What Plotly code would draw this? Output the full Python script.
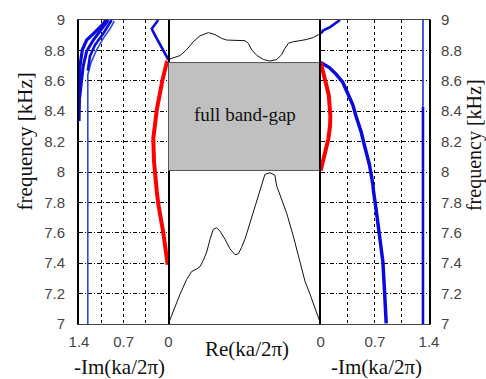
import plotly.graph_objects as go

# ---------------- data ----------------
freq_ticks = [7.0, 7.2, 7.4, 7.6, 7.8, 8.0, 8.2, 8.4, 8.6, 8.8, 9.0]
freq_tick_labels = ["7", "7.2", "7.4", "7.6", "7.8", "8", "8.2", "8.4", "8.6", "8.8", "9"]
im_ticks = [0, 0.35, 0.7, 1.05, 1.4]
im_tick_labels_left = ["", "", "0.7", "", "1.4"]
im_tick_labels_right = ["", "", "0.7", "", "1.4"]
re_ticks = [0, 1]
re_tick_labels = ["0", "0"]

gap_low, gap_high = 8.01, 8.72

# middle panel: real part (normalised path coordinate)
re_low_x = [0.000, 0.033, 0.077, 0.120, 0.153, 0.186, 0.208, 0.230, 0.252, 0.274, 0.295, 0.317,
            0.339, 0.372, 0.405, 0.438, 0.460, 0.481, 0.503, 0.536, 0.569, 0.601, 0.634, 0.667,
            0.699, 0.711, 0.744, 0.777, 0.820, 0.864, 0.897, 0.930, 0.962, 0.991, 1.000]
re_low_f = [7.000, 7.089, 7.196, 7.292, 7.345, 7.362, 7.377, 7.420, 7.473, 7.558, 7.622, 7.633,
            7.611, 7.558, 7.494, 7.456, 7.462, 7.505, 7.558, 7.665, 7.771, 7.867, 7.984, 7.995,
            7.980, 7.909, 7.814, 7.728, 7.579, 7.409, 7.281, 7.196, 7.100, 7.026, 7.000]
re_up_x = [0.000, 0.033, 0.077, 0.120, 0.164, 0.208, 0.263, 0.306, 0.350, 0.383, 0.449, 0.503,
           0.525, 0.547, 0.580, 0.624, 0.667, 0.711, 0.744, 0.766, 0.788, 0.820, 0.864, 0.908,
           0.952, 0.984, 1.000]
re_up_f = [8.740, 8.751, 8.766, 8.804, 8.857, 8.896, 8.917, 8.904, 8.879, 8.868, 8.864, 8.864,
           8.847, 8.804, 8.768, 8.740, 8.730, 8.740, 8.772, 8.815, 8.847, 8.857, 8.864, 8.872,
           8.885, 8.900, 8.911]

# left panel: -Im
L_thin_x = [1.262, 1.262, 1.212, 1.123, 1.019, 0.914, 0.847]
L_thin_f = [7.000, 8.640, 8.720, 8.804, 8.879, 8.942, 8.992]
L_a_x = [1.400, 1.390, 1.385, 1.348, 1.280, 1.149, 1.019, 0.980]
L_a_f = [8.335, 8.506, 8.698, 8.804, 8.868, 8.920, 8.974, 9.000]
L_b_x = [1.400, 1.369, 1.333, 1.280, 1.176, 1.044, 0.940]
L_b_f = [8.450, 8.548, 8.698, 8.794, 8.868, 8.942, 9.000]
L_c_x = [1.262, 1.228, 1.149, 1.019, 0.888]
L_c_f = [8.666, 8.762, 8.836, 8.911, 9.000]
L_top_x = [0.000, 0.078, 0.182, 0.260, 0.157]
L_top_f = [8.740, 8.804, 8.879, 8.942, 9.000]
L_red_x = [0.010, 0.025, 0.094, 0.180, 0.235, 0.224, 0.180, 0.157, 0.078, 0.010]
L_red_f = [8.730, 8.720, 8.600, 8.410, 8.220, 8.070, 7.870, 7.790, 7.600, 7.390]

# right panel: -Im
R_main_x = [0.000, 0.112, 0.198, 0.285, 0.350, 0.415, 0.457, 0.524, 0.565, 0.630, 0.674,
            0.682, 0.717, 0.760, 0.804, 0.825, 0.847]
R_main_f = [8.720, 8.687, 8.644, 8.591, 8.516, 8.442, 8.367, 8.261, 8.176, 8.048, 7.920,
            7.877, 7.750, 7.580, 7.409, 7.217, 7.004]
R_red_x = [0.000, 0.026, 0.069, 0.104, 0.121, 0.125, 0.121, 0.099, 0.069, 0.034, 0.004, 0.000]
R_red_f = [8.720, 8.655, 8.580, 8.506, 8.431, 8.367, 8.304, 8.218, 8.155, 8.090, 8.027, 8.010]
R_top_x = [0.000, 0.034, 0.121, 0.185, 0.250]
R_top_f = [8.911, 8.932, 8.953, 8.974, 9.000]
R_far_x_low = [1.322, 1.322]
R_far_f_low = [7.000, 8.430]
R_far_x_up = [1.322, 1.322]
R_far_f_up = [8.430, 9.000]

BLUE = "#0a0adc"
BLUE_THIN = "#2a48e6"
RED = "#ff0000"

fig = go.Figure()

def add(x, y, xa, ya, color, width):
    fig.add_trace(go.Scatter(x=x, y=y, xaxis=xa, yaxis=ya, mode="lines",
                             line=dict(color=color, width=width), showlegend=False,
                             hoverinfo="skip"))

# left panel
add(L_thin_x, L_thin_f, "x", "y", BLUE_THIN, 1.6)
add(L_a_x, L_a_f, "x", "y", BLUE, 3.2)
add(L_b_x, L_b_f, "x", "y", BLUE, 3.0)
add(L_c_x, L_c_f, "x", "y", BLUE, 2.6)
add(L_top_x, L_top_f, "x", "y", BLUE, 2.6)
add(L_red_x, L_red_f, "x", "y", RED, 4)
# middle panel
add(re_low_x, re_low_f, "x2", "y2", "#111111", 1)
add(re_up_x, re_up_f, "x2", "y2", "#111111", 1)
# right panel
add(R_main_x, R_main_f, "x3", "y3", BLUE, 3.5)
add(R_red_x, R_red_f, "x3", "y3", RED, 4)
add(R_top_x, R_top_f, "x3", "y3", BLUE, 2.6)
add(R_far_x_low, R_far_f_low, "x3", "y3", BLUE, 2.6)
add(R_far_x_up, R_far_f_up, "x3", "y3", BLUE_THIN, 1.8)

# band gap box
fig.add_shape(type="rect", xref="x2", yref="y2", x0=0, x1=1, y0=gap_low, y1=gap_high,
              fillcolor="#c0c0c0", line=dict(color="#555555", width=1), layer="below")
fig.add_annotation(x=0.5, y=8.38, xref="x2", yref="y2", text="full band-gap",
                   showarrow=False, font=dict(family="Liberation Serif", size=19, color="#111111"))

tickfont = dict(family="Liberation Sans", size=15, color="#444444")
titlefont = dict(family="Liberation Serif", size=21, color="#111111")

d1 = 89.3 / 350
d2 = 241.7 / 350

common_x = dict(showline=True, linecolor="#444444", linewidth=1, mirror=True,
                zeroline=False, ticks="", tickfont=tickfont, ticklabelstandoff=4)
common_y = dict(range=[7, 9], zeroline=False, ticks="", tickvals=freq_ticks,
                ticktext=freq_tick_labels, tickfont=tickfont, domain=[0, 1])
frame_y = dict(showline=True, linecolor="black", linewidth=2, mirror=True)
grid = dict(showgrid=True, gridcolor="black", gridwidth=1)

fig.update_layout(
    width=486, height=379,
    margin=dict(l=79, r=57, t=11, b=55),
    paper_bgcolor="white", plot_bgcolor="white",
    xaxis=dict(domain=[0, d1], range=[1.4, 0], anchor="y", tickvals=im_ticks,
               ticktext=im_tick_labels_left, griddash="dot", **grid, **common_x),
    xaxis2=dict(domain=[d1, d2], range=[0, 1], anchor="y2", tickvals=re_ticks,
                ticktext=re_tick_labels, showgrid=False, **common_x),
    xaxis3=dict(domain=[d2, 1], range=[0, 1.4], anchor="y3", tickvals=im_ticks,
                ticktext=im_tick_labels_right, griddash="dot", **grid, **common_x),
    yaxis=dict(anchor="x", side="left", griddash="4px,2px,1px,2px", ticklabelstandoff=9,
               **grid, **frame_y, **common_y),
    yaxis2=dict(anchor="x2", showticklabels=False, showgrid=False, showline=False,
                **common_y),
    yaxis3=dict(anchor="x3", side="right", griddash="4px,2px,1px,2px", ticklabelstandoff=7,
                **grid, **frame_y, **common_y),
)

titles = [
    dict(text="frequency [kHz]", x=-0.1544, y=0.6006, textangle=-90, size=21),
    dict(text="frequency [kHz]", x=1.128, y=0.588, textangle=-90, size=20),
    dict(text="-Im(ka/2π)", x=0.1144, y=-0.1406, textangle=0, size=21),
    dict(text="Re(ka/2π)", x=0.4795, y=-0.0831, textangle=0, size=21),
    dict(text="-Im(ka/2π)", x=0.8507, y=-0.1406, textangle=0, size=21),
]
for t in titles:
    s = t.pop("size")
    fig.add_annotation(xref="paper", yref="paper", showarrow=False, xanchor="center",
                       yanchor="middle", font=dict(titlefont, size=s), **t)

fig.write_html("out.html")
